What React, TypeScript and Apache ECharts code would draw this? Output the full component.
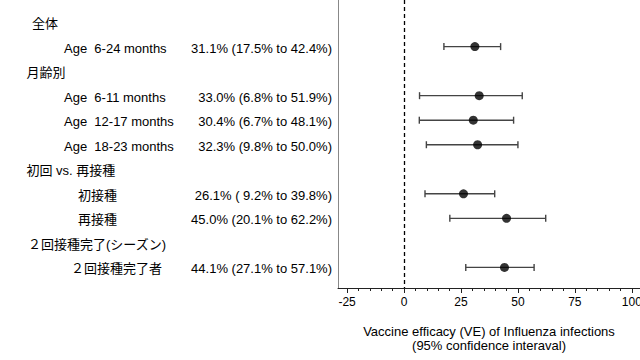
import React, { useEffect, useRef } from "react";
import * as echarts from "echarts";

// ---- data ----
const headerLabels = ["全体", "月齢別", "初回 vs. 再接種", "２回接種完了(シーズン)"];
const headerRows = [0, 2, 6, 9];
const itemLabels = [
  "Age\u00a0 6-24 months",
  "Age\u00a0 6-11 months",
  "Age\u00a0 12-17 months",
  "Age\u00a0 18-23 months",
  "初接種",
  "再接種",
  "２回接種完了者",
];
const itemRows = [1, 3, 4, 5, 7, 8, 10];
const estimates = [31.1, 33.0, 30.4, 32.3, 26.1, 45.0, 44.1];
const lowerCI = [17.5, 6.8, 6.7, 9.8, 9.2, 20.1, 27.1];
const upperCI = [42.4, 51.9, 48.1, 50.0, 39.8, 62.2, 57.1];
const veTexts = [
  "31.1% (17.5% to 42.4%)",
  "33.0% (6.8% to 51.9%)",
  "30.4% (6.7% to 48.1%)",
  "32.3% (9.8% to 50.0%)",
  "26.1% ( 9.2% to 39.8%)",
  "45.0% (20.1% to 62.2%)",
  "44.1% (27.1% to 57.1%)",
];
const majorTicks = [-25, 0, 25, 50, 75, 100];
const minorTicks = [-25, -20, -15, -10, -5, 0, 5, 10, 15, 20, 25, 30, 35, 40, 45, 50, 55, 60, 65, 70, 75, 80, 85, 90, 95, 100];

// ---- layout / style ----
const FONT = "'Liberation Sans', 'Noto Sans CJK JP', sans-serif";
const headerX = [32, 26.5, 26.5, 28];
const itemX = [64, 64, 64, 64, 78, 78, 71];
const veRight = 332;

export default function App() {
  const ref = useRef<HTMLDivElement>(null);

  useEffect(() => {
    if (!ref.current) return;
    const chart = echarts.init(ref.current, null, { renderer: "svg" });

    const whiskerData = itemRows.map((r, i) => [lowerCI[i], upperCI[i], r]);
    const pointData = itemRows.map((r, i) => [estimates[i], r]);

    chart.setOption({
      animation: false,
      grid: { left: 338, right: 0, top: 0, bottom: 72, containLabel: false, outerBoundsMode: "none" },
      xAxis: [
        {
          type: "value",
          min: -29,
          max: 103.6,
          position: "bottom",
          axisLine: { show: true, onZero: false, lineStyle: { color: "#222", width: 1 } },
          axisTick: { show: true, customValues: majorTicks, length: 5, lineStyle: { color: "#222" } },
          axisLabel: {
            customValues: majorTicks,
            color: "#000",
            fontSize: 12,
            fontFamily: FONT,
            margin: 8,
            showMaxLabel: true,
          },
          splitLine: { show: false },
          name: "Vaccine efficacy (VE) of Influenza infections\n(95% confidence interaval)",
          nameLocation: "middle",
          nameGap: 36,
          nameTextStyle: { color: "#000", fontSize: 13, fontFamily: FONT, lineHeight: 14 },
        },
        {
          type: "value",
          min: -29,
          max: 103.6,
          position: "bottom",
          axisLine: { show: false, onZero: false },
          axisTick: { show: true, customValues: minorTicks, length: 3, lineStyle: { color: "#222" } },
          axisLabel: { show: false },
          splitLine: { show: false },
        },
      ],
      yAxis: {
        type: "value",
        min: -0.9,
        max: 10.84,
        inverse: true,
        axisLine: { show: true, onZero: false, lineStyle: { color: "#888", width: 1 } },
        axisTick: { show: false },
        axisLabel: { show: false },
        splitLine: { show: false },
      },
      series: [
        {
          type: "custom",
          xAxisIndex: 0,
          data: whiskerData,
          renderItem: (params: any, api: any) => {
            const lo = api.coord([api.value(0), api.value(2)]);
            const hi = api.coord([api.value(1), api.value(2)]);
            const style = { stroke: "#444", lineWidth: 1.4 };
            const cap = 3.5;
            return {
              type: "group",
              children: [
                { type: "line", shape: { x1: lo[0], y1: lo[1], x2: hi[0], y2: hi[1] }, style },
                { type: "line", shape: { x1: lo[0], y1: lo[1] - cap, x2: lo[0], y2: lo[1] + cap }, style },
                { type: "line", shape: { x1: hi[0], y1: hi[1] - cap, x2: hi[0], y2: hi[1] + cap }, style },
              ],
            };
          },
          silent: true,
          z: 2,
        },
        {
          type: "scatter",
          xAxisIndex: 0,
          data: pointData,
          symbol: "circle",
          symbolSize: 9,
          itemStyle: { color: "#000" },
          z: 3,
          markLine: {
            silent: true,
            symbol: ["none", "none"],
            label: { show: false },
            lineStyle: { color: "#000", type: [4, 3], width: 1.3 },
            data: [{ xAxis: 0 }],
          },
        },
      ],
    });

    const rowY = (r: number) => chart.convertToPixel({ yAxisIndex: 0 }, r) as number;
    const textStyle = (text: string, align: string) => ({
      text,
      fill: "#000",
      font: `13px ${FONT}`,
      align,
      verticalAlign: "middle",
    });
    const graphics: any[] = [];
    headerLabels.forEach((t, i) => {
      graphics.push({
        type: "text",
        x: headerX[i],
        y: rowY(headerRows[i]) + 1.5,
        style: textStyle(t, "left"),
      });
    });
    itemLabels.forEach((t, i) => {
      graphics.push({
        type: "text",
        x: itemX[i],
        y: rowY(itemRows[i]) + 1.5,
        style: textStyle(t, "left"),
      });
      graphics.push({
        type: "text",
        x: veRight,
        y: rowY(itemRows[i]) + 1.5,
        style: textStyle(veTexts[i], "right"),
      });
    });
    chart.setOption({ graphic: graphics });

    return () => chart.dispose();
  }, []);

  return (
    <div
      ref={ref}
      style={{ position: "absolute", left: 0, top: 0, width: 640, height: 360, background: "#fff" }}
    />
  );
}
